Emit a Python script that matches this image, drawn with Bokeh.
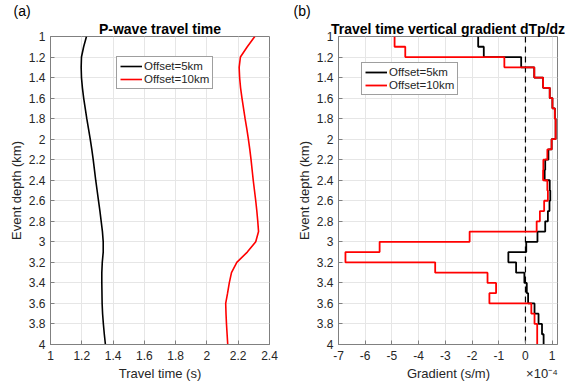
from bokeh.plotting import figure
from bokeh.layouts import row
from bokeh.models import Range1d, FixedTicker, CustomJSTickFormatter, Span, Title
from bokeh.embed import file_html
from bokeh.resources import INLINE

# ---------------- data ----------------
depth = [1.0, 1.1, 1.2, 1.3, 1.4, 1.5, 1.6, 1.7, 1.8, 1.9, 2.0,
         2.1, 2.2, 2.3, 2.4, 2.5, 2.6, 2.7, 2.8, 2.9, 3.0,
         3.1, 3.2, 3.3, 3.4, 3.5, 3.6, 3.7, 3.8, 3.9, 4.0]

# travel time (s)
time_5km = [1.230, 1.212, 1.198, 1.196, 1.198, 1.204, 1.212, 1.222, 1.232, 1.243, 1.254,
            1.264, 1.273, 1.281, 1.289, 1.298, 1.307, 1.316, 1.324, 1.332, 1.337,
            1.337, 1.331, 1.328, 1.328, 1.329, 1.330, 1.333, 1.338, 1.344, 1.351]
time_10km = [2.306, 2.258, 2.214, 2.206, 2.209, 2.215, 2.224, 2.234, 2.244, 2.255, 2.265,
             2.274, 2.282, 2.289, 2.296, 2.304, 2.312, 2.319, 2.325, 2.330, 2.312,
             2.258, 2.191, 2.157, 2.143, 2.132, 2.120, 2.122, 2.125, 2.129, 2.133]

# vertical gradient per 0.1 km interval (units of 1e-4 s/m)
grad_5km = [-1.77, -1.56, -0.16, 0.33, 0.66, 0.91, 1.01, 1.10, 1.13, 1.13,
            0.98, 0.86, 0.74, 0.72, 0.91, 0.93, 0.90, 0.84, 0.74, 0.45,
            0.03, -0.64, -0.35, -0.04, 0.05, 0.10, 0.34, 0.49, 0.62, 0.68]
grad_10km = [-4.90, -4.50, -0.79, 0.33, 0.66, 0.91, 1.01, 1.10, 1.13, 1.13,
             0.98, 0.82, 0.67, 0.66, 0.82, 0.84, 0.70, 0.54, 0.42, -2.09,
             -5.46, -6.74, -3.38, -1.42, -1.10, -1.35, 0.22, 0.34, 0.44, 0.44]

depth_ticks = [1, 1.2, 1.4, 1.6, 1.8, 2, 2.2, 2.4, 2.6, 2.8, 3, 3.2, 3.4, 3.6, 3.8, 4]
time_ticks = [1, 1.2, 1.4, 1.6, 1.8, 2, 2.2, 2.4]
grad_ticks = [-7, -6, -5, -4, -3, -2, -1, 0, 1]

labels = ["Offset=5km", "Offset=10km"]
colors = ["#000000", "#ff0000"]

FONT = "Liberation Sans"
TXT = "#262626"
AX = "#808080"
NB = "\u00a0"


def stairs(vals, edges):
    xs, ys = [], []
    for i, v in enumerate(vals):
        xs += [v, v]
        ys += [edges[i], edges[i + 1]]
    return xs, ys


def style(p, xticks, xlabel):
    p.xaxis.ticker = FixedTicker(ticks=xticks)
    p.yaxis.ticker = FixedTicker(ticks=depth_ticks)
    p.xaxis.axis_label = xlabel
    p.yaxis.axis_label = "Event depth (km)"
    for ax in (p.xaxis[0], p.yaxis[0]):
        ax.formatter = CustomJSTickFormatter(code="return Number(tick.toFixed(1)).toString()")
        ax.major_tick_in = 4
        ax.major_tick_out = 0
        ax.minor_tick_line_color = None
        ax.axis_line_color = AX
        ax.major_tick_line_color = AX
        ax.major_label_text_font = FONT
        ax.major_label_text_font_size = "12px"
        ax.major_label_text_color = TXT
        ax.axis_label_text_font = FONT
        ax.axis_label_text_font_size = "13px"
        ax.axis_label_text_font_style = "normal"
        ax.axis_label_text_color = TXT
    p.xaxis.major_label_standoff = 6
    p.xaxis.axis_label_standoff = 3
    p.yaxis.major_label_standoff = 5
    p.yaxis.axis_label_standoff = 2
    p.grid.grid_line_color = "#e6e6e6"
    p.outline_line_color = AX
    p.background_fill_color = "white"
    p.border_fill_color = "white"


def style_legend(p, loc):
    lg = p.legend[0]
    lg.location = loc
    lg.label_text_font = FONT
    lg.label_text_font_size = "11.5px"
    lg.label_text_color = TXT
    lg.glyph_width = 22
    lg.glyph_height = 12
    lg.label_height = 12
    lg.label_standoff = 2
    lg.padding = 3
    lg.spacing = 1
    lg.margin = 0
    lg.border_line_color = "#404040"
    lg.border_line_width = 1
    lg.background_fill_alpha = 1


def titles(p, title, panel, panel_offset):
    # outer line: panel letter; inner line (next to the frame): bold title
    p.title.text = panel
    p.title.align = "left"
    p.title.offset = panel_offset
    p.title.standoff = 0
    p.title.text_font = FONT
    p.title.text_font_size = "14px"
    p.title.text_font_style = "normal"
    p.title.text_color = "#000000"
    p.add_layout(Title(text=title, align="center", standoff=0,
                       text_font=FONT, text_font_size="14px", text_font_style="bold",
                       text_color="#000000"), "above")


# ---------------- panel (a) ----------------
p1 = figure(width=290, height=383, output_backend="svg", toolbar_location=None,
            x_range=Range1d(1, 2.4), y_range=Range1d(4, 1),
            min_border_left=50, min_border_right=21, min_border_top=36, min_border_bottom=39)
p1.line(time_5km, depth, line_color=colors[0], line_width=1.6, legend_label=labels[0])
p1.line(time_10km, depth, line_color=colors[1], line_width=1.6, legend_label=labels[1])
style(p1, time_ticks, "Travel time (s)")
style_legend(p1, (66, 255))
titles(p1, "P-wave travel time", "(a)", -37)

# ---------------- panel (b) ----------------
p2 = figure(width=275, height=383, output_backend="svg", toolbar_location=None,
            x_range=Range1d(-7, 1.2), y_range=Range1d(4, 1),
            min_border_left=48, min_border_right=8, min_border_top=36, min_border_bottom=39)
p2.add_layout(Span(location=0, dimension="height", line_color="#000000",
                   line_dash="6 4", line_width=1.2, level="underlay"))
xs5, ys5 = stairs(grad_5km, depth)
xs10, ys10 = stairs(grad_10km, depth)
p2.line(xs5, ys5, line_color=colors[0], line_width=1.8, legend_label=labels[0])
p2.line(xs10, ys10, line_color=colors[1], line_width=1.8, legend_label=labels[1])
style(p2, grad_ticks, NB * 19 + "Gradient (s/m)" + NB * 10 + "\u00d710\u207b\u2074")
style_legend(p2, (23, 249))
titles(p2, "Travel time vertical gradient dTp/dz", "(b)", -45)

layout = row(p1, p2)
open("out.html", "w").write(file_html(layout, INLINE))
